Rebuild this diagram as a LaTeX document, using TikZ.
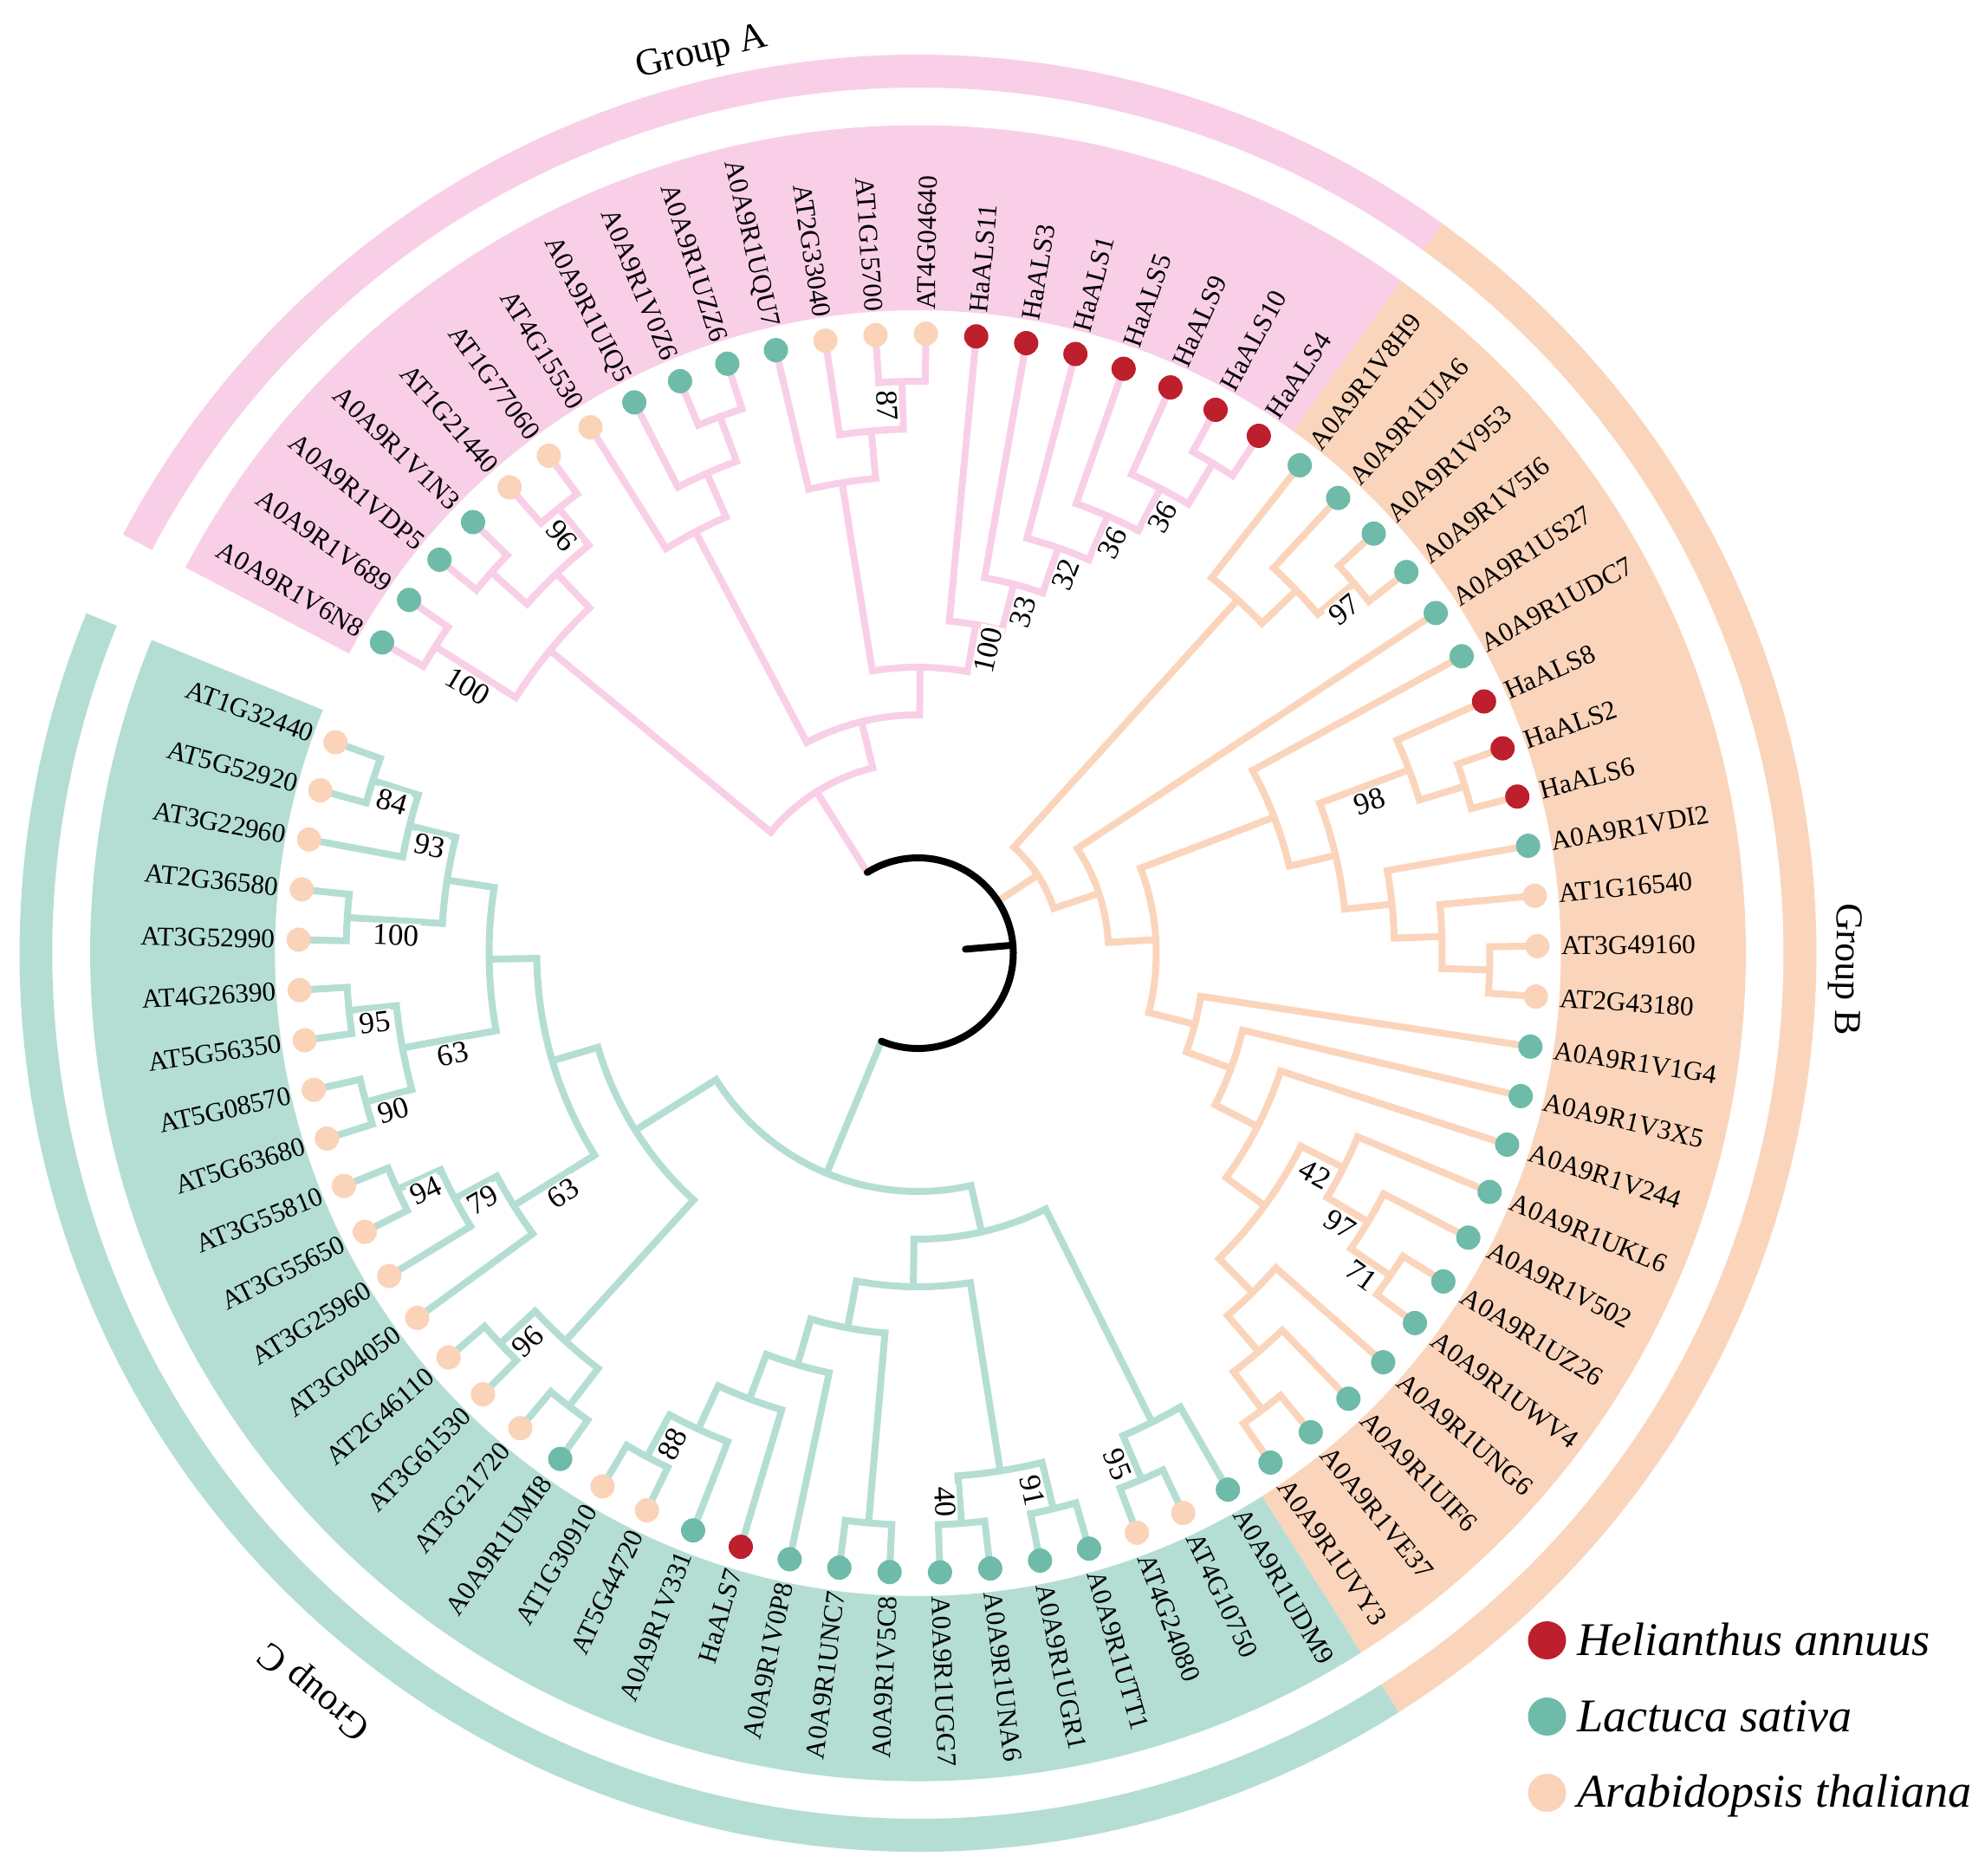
\documentclass[tikz,border=0pt]{standalone}
\usepackage{fontspec}
\setmainfont{Liberation Serif}
\definecolor{pinkc}{RGB}{249,207,232}
\definecolor{peachc}{RGB}{251,213,187}
\definecolor{greenc}{RGB}{180,222,212}
\definecolor{greendot}{RGB}{110,187,169}
\definecolor{reddot}{RGB}{190,31,45}
\definecolor{peachdot}{RGB}{251,211,184}
% internal node: child1 y, child1 level, child2 y, child2 level, node level
\newcommand\Nd[5]{%
  \pgfmathsetmacro\aA{160.1+4.664*#1}%
  \pgfmathsetmacro\aB{160.1+4.664*#3}%
  \pgfmathsetmacro\rA{71.5-5.5*#2}%
  \pgfmathsetmacro\rB{71.5-5.5*#4}%
  \pgfmathsetmacro\rN{71.5-5.5*#5}%
  \draw (\aA:\rA mm) -- (\aA:\rN mm) arc[start angle=\aA, end angle=\aB, radius=\rN mm] -- (\aB:\rB mm);}
\newcommand\Rad[3]{%
  \pgfmathsetmacro\aA{160.1+4.664*#1}%
  \pgfmathsetmacro\rA{71.5-5.5*#2}%
  \pgfmathsetmacro\rB{71.5-5.5*#3}%
  \draw (\aA:\rA mm) -- (\aA:\rB mm);}
\newcommand\Arcc[3]{%
  \pgfmathsetmacro\aA{160.1+4.664*#1}%
  \pgfmathsetmacro\aB{160.1+4.664*#2}%
  \pgfmathsetmacro\rN{71.5-5.5*#3}%
  \draw (\aA:\rN mm) arc[start angle=\aA, end angle=\aB, radius=\rN mm];}
\newcommand\Sect[5]{%
  \fill[#1] (#2:#4mm) arc[start angle=#2, end angle=#3, radius=#4mm] -- (#3:#5mm) arc[start angle=#3, end angle=#2, radius=#5mm] -- cycle;}
\tikzset{
  br/.style={line width=0.8mm},
  tiplab/.style={font=\fontsize{8.9}{10}\selectfont, inner sep=0pt},
  bs/.style={font=\fontsize{10}{12}\selectfont, inner sep=0.2mm, fill=white},
  grp/.style={font=\fontsize{12.5}{15}\selectfont, inner sep=0pt},
  leg/.style={font=\fontsize{15.4}{18}\selectfont\itshape, inner sep=0pt, anchor=base west},
}
\begin{document}
\begin{tikzpicture}
\useasboundingbox (-105.95mm,-106.4mm) rectangle (123.15mm,110mm);
\fill[white] (-105.95mm,-106.4mm) rectangle (123.15mm,110mm);
% background sectors and outer rings
\Sect{pinkc}{54.29}{152.23}{74.2}{95.55}
\Sect{peachc}{-57.65}{54.29}{74.2}{95.55}
\Sect{greenc}{157.77}{302.35}{74.2}{95.55}
\Sect{pinkc}{54.29}{152.23}{99.9}{103.7}
\Sect{peachc}{-57.65}{54.29}{99.9}{103.7}
\Sect{greenc}{157.77}{302.35}{99.9}{103.7}
% Group A branches
\begin{scope}[br, draw=pinkc]
\Rad{69.048828125}{11}{9}
\Nd{55}{0}{56}{0}{1}
\Nd{57}{0}{55.5}{1}{2}
\Nd{58}{0}{56.25}{2}{3}
\Nd{59}{0}{57.125}{3}{4}
\Nd{60}{0}{58.0625}{4}{5}
\Nd{61}{0}{59.03125}{5}{6}
\Nd{62}{0}{63}{0}{1}
\Nd{62.5}{1}{64}{0}{2}
\Nd{63.25}{2}{65}{0}{3}
\Nd{60.015625}{6}{64.125}{3}{7}
\Nd{66}{0}{67}{0}{1}
\Nd{66.5}{1}{68}{0}{2}
\Nd{67.25}{2}{69}{0}{3}
\Nd{62.0703125}{7}{68.125}{3}{8}
\Nd{70}{0}{71}{0}{1}
\Nd{72}{0}{73}{0}{1}
\Nd{70.5}{1}{72.5}{1}{2}
\Nd{74}{0}{75}{0}{1}
\Nd{71.5}{2}{74.5}{1}{3}
\Nd{65.09765625}{8}{73}{3}{9}
\end{scope}
% Group B branches
\begin{scope}[br, draw=peachc]
\Rad{49.951171875}{11}{10}
\Nd{31}{0}{32}{0}{1}
\Nd{33}{0}{31.5}{1}{2}
\Nd{34}{0}{32.25}{2}{3}
\Nd{35}{0}{36}{0}{1}
\Nd{37}{0}{35.5}{1}{2}
\Nd{38}{0}{36.25}{2}{3}
\Nd{37.125}{3}{33.125}{3}{4}
\Nd{39}{0}{35.125}{4}{5}
\Nd{40}{0}{37.0625}{5}{6}
\Nd{41}{0}{38.53125}{6}{7}
\Nd{42}{0}{43}{0}{1}
\Nd{44}{0}{42.5}{1}{2}
\Nd{45}{0}{43.25}{2}{3}
\Nd{46}{0}{47}{0}{1}
\Nd{48}{0}{46.5}{1}{2}
\Nd{47.25}{2}{44.125}{3}{4}
\Nd{49}{0}{45.6875}{4}{5}
\Nd{47.34375}{5}{39.765625}{7}{8}
\Nd{50}{0}{43.5546875}{8}{9}
\Nd{51}{0}{52}{0}{1}
\Nd{53}{0}{51.5}{1}{2}
\Nd{54}{0}{52.25}{2}{3}
\Nd{53.125}{3}{46.77734375}{9}{10}
\end{scope}
% Group C branches
\begin{scope}[br, draw=greenc]
\Rad{18.73046875}{11}{8}
\Nd{0}{0}{1}{0}{1}
\Nd{0.5}{1}{2}{0}{2}
\Nd{3}{0}{4}{0}{1}
\Nd{1.25}{2}{3.5}{1}{3}
\Nd{5}{0}{6}{0}{1}
\Nd{7}{0}{8}{0}{1}
\Nd{5.5}{1}{7.5}{1}{2}
\Nd{2.375}{3}{6.5}{2}{4}
\Nd{9}{0}{10}{0}{1}
\Nd{9.5}{1}{11}{0}{2}
\Nd{10.25}{2}{12}{0}{3}
\Nd{4.4375}{4}{11.125}{3}{5}
\Nd{13}{0}{14}{0}{1}
\Nd{15}{0}{16}{0}{1}
\Nd{13.5}{1}{15.5}{1}{2}
\Nd{7.78125}{5}{14.5}{2}{6}
\Nd{17}{0}{18}{0}{1}
\Nd{17.5}{1}{19}{0}{2}
\Nd{18.25}{2}{20}{0}{3}
\Nd{19.125}{3}{21}{0}{4}
\Nd{22}{0}{23}{0}{1}
\Nd{20.0625}{4}{22.5}{1}{5}
\Nd{24}{0}{25}{0}{1}
\Nd{26}{0}{27}{0}{1}
\Nd{24.5}{1}{26.5}{1}{2}
\Nd{21.28125}{5}{25.5}{2}{6}
\Nd{28}{0}{29}{0}{1}
\Nd{28.5}{1}{30}{0}{2}
\Nd{23.390625}{6}{29.25}{2}{7}
\Nd{11.140625}{6}{26.3203125}{7}{8}
\end{scope}
% root
\begin{scope}[br, draw=black, line cap=round]
\Arcc{18.73046875}{69.048828125}{11}
\Rad{43.8896484375}{12}{11}
\end{scope}
% tips
\foreach \lab/\col [count=\k from 0] in {AT1G32440/peachdot, AT5G52920/peachdot, AT3G22960/peachdot, AT2G36580/peachdot, AT3G52990/peachdot, AT4G26390/peachdot, AT5G56350/peachdot, AT5G08570/peachdot, AT5G63680/peachdot, AT3G55810/peachdot, AT3G55650/peachdot, AT3G25960/peachdot, AT3G04050/peachdot, AT2G46110/peachdot, AT3G61530/peachdot, AT3G21720/peachdot, A0A9R1UMI8/greendot, AT1G30910/peachdot, AT5G44720/peachdot, A0A9R1V331/greendot, HaALS7/reddot, A0A9R1V0P8/greendot, A0A9R1UNC7/greendot, A0A9R1V5C8/greendot, A0A9R1UGG7/greendot, A0A9R1UNA6/greendot, A0A9R1UGR1/greendot, A0A9R1UTT1/greendot, AT4G24080/peachdot, AT4G10750/peachdot, A0A9R1UDM9/greendot, A0A9R1UVY3/greendot, A0A9R1VE37/greendot, A0A9R1UIF6/greendot, A0A9R1UNG6/greendot, A0A9R1UWV4/greendot, A0A9R1UZ26/greendot, A0A9R1V502/greendot, A0A9R1UKL6/greendot, A0A9R1V244/greendot, A0A9R1V3X5/greendot, A0A9R1V1G4/greendot, AT2G43180/peachdot, AT3G49160/peachdot, AT1G16540/peachdot, A0A9R1VDI2/greendot, HaALS6/reddot, HaALS2/reddot, HaALS8/reddot, A0A9R1UDC7/greendot, A0A9R1US27/greendot, A0A9R1V5I6/greendot, A0A9R1V953/greendot, A0A9R1UJA6/greendot, A0A9R1V8H9/greendot, HaALS4/reddot, HaALS10/reddot, HaALS9/reddot, HaALS5/reddot, HaALS1/reddot, HaALS3/reddot, HaALS11/reddot, AT4G04640/peachdot, AT1G15700/peachdot, AT2G33040/peachdot, A0A9R1UQU7/greendot, A0A9R1UZZ6/greendot, A0A9R1V0Z6/greendot, A0A9R1UIQ5/greendot, AT4G15530/peachdot, AT1G77060/peachdot, AT1G21440/peachdot, A0A9R1V1N3/greendot, A0A9R1VDP5/greendot, A0A9R1V689/greendot, A0A9R1V6N8/greendot}{
  \pgfmathsetmacro\tA{160.1+4.664*\k}
  \fill[\col] (\tA:71.5mm) circle[radius=1.4mm];
  \pgfmathsetmacro\cA{cos(\tA)}
  \ifdim\cA pt<0pt
    \pgfmathsetmacro\tB{\tA-180}
    \node[tiplab, anchor=east, rotate=\tB] (t\k) at (\tA:74.2mm) {\lab};
  \else
    \node[tiplab, anchor=west, rotate=\tA] (t\k) at (\tA:74.2mm) {\lab};
  \fi
}
% bootstrap values
\node[bs, rotate=-30.7] (bA1) at (-51.95mm,30.83mm) {100};
\node[bs, rotate=-49.5] (bA2) at (-41.12mm,48.17mm) {96};
\node[bs, rotate=-86.8] (bA3) at (-3.55mm,63.17mm) {87};
\node[bs, rotate=77] (bA4) at (8.05mm,35.0mm) {100};
\node[bs, rotate=72.9] (bA5) at (12.12mm,39.4mm) {33};
\node[bs, rotate=68.7] (bA6) at (17.05mm,43.67mm) {32};
\node[bs, rotate=64.6] (bA7) at (22.45mm,47.33mm) {36};
\node[bs, rotate=60.7] (bA8) at (28.22mm,50.33mm) {36};
\node[bs, rotate=38.9] (bB1) at (49.22mm,39.67mm) {97};
\node[bs, rotate=18.6] (bB2) at (52.12mm,17.5mm) {98};
\node[bs, rotate=-29] (bB3) at (45.85mm,-25.5mm) {42};
\node[bs, rotate=-32.7] (bB4) at (48.72mm,-31.33mm) {97};
\node[bs, rotate=-36] (bB5) at (51.22mm,-37.17mm) {71};
\node[bs, rotate=-16.1] (bC1) at (-60.68mm,17.5mm) {84};
\node[bs, rotate=-12.4] (bC2) at (-56.38mm,12.4mm) {93};
\node[bs, rotate=-2] (bC3) at (-60.28mm,2.07mm) {100};
\node[bs, rotate=7.3] (bC4) at (-62.68mm,-8.0mm) {95};
\node[bs, rotate=12.3] (bC5) at (-53.68mm,-11.67mm) {63};
\node[bs, rotate=16.7] (bC6) at (-60.55mm,-18.17mm) {90};
\node[bs, rotate=25.8] (bC7) at (-56.78mm,-27.4mm) {94};
\node[bs, rotate=29.5] (bC8) at (-50.28mm,-28.5mm) {79};
\node[bs, rotate=34] (bC9) at (-40.95mm,-27.67mm) {63};
\node[bs, rotate=44.9] (bC10) at (-45.02mm,-44.83mm) {96};
\node[bs, rotate=63.4] (bC11) at (-28.35mm,-56.67mm) {88};
\node[bs, rotate=-87.2] (bC12) at (3.12mm,-63.33mm) {40};
\node[bs, rotate=-78] (bC13) at (13.22mm,-62.0mm) {91};
\node[bs, rotate=-68.7] (bC14) at (23.05mm,-59.0mm) {95};
% group labels
\node[grp, rotate=13.5] (gA) at (103.5:106.8mm) {Group A};
\node[grp, rotate=-91] (gB) at (-1:107.0mm) {Group B};
\node[grp, rotate=140.5] (gC) at (230.7:109.8mm) {Group C};
% legend
\fill[reddot] (72.6mm,-79.3mm) circle[radius=2.2mm];
\fill[greendot] (72.6mm,-88.1mm) circle[radius=2.2mm];
\fill[peachdot] (72.6mm,-96.9mm) circle[radius=2.2mm];
\node[leg] (l1) at (76.0mm,-81.05mm) {Helianthus annuus};
\node[leg] (l2) at (76.0mm,-89.85mm) {Lactuca sativa};
\node[leg] (l3) at (76.0mm,-98.55mm) {Arabidopsis thaliana};
\end{tikzpicture}
\end{document}
